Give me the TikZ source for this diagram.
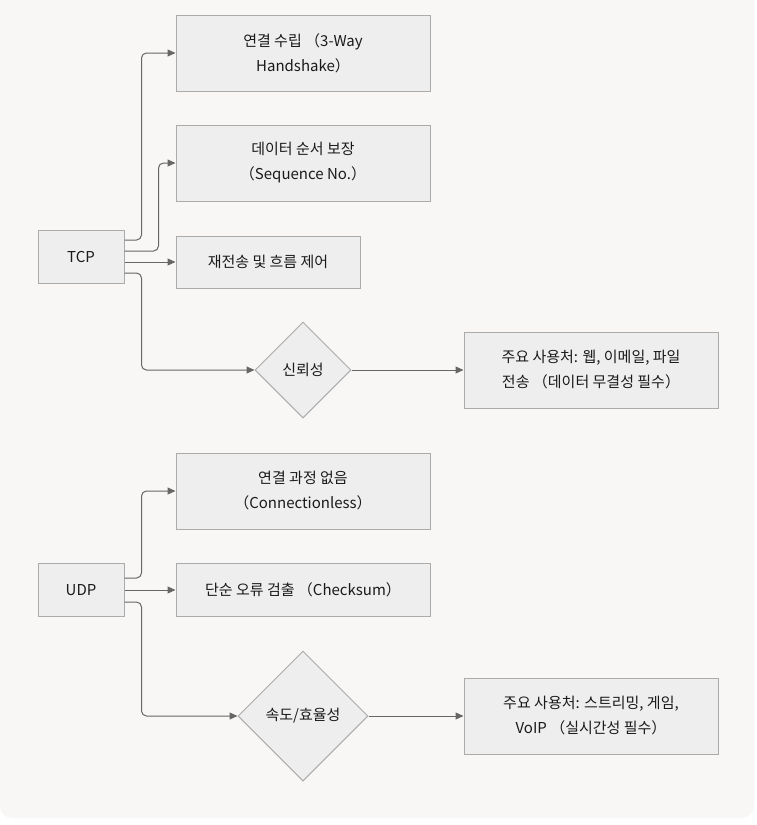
\documentclass[tikz,border=0pt]{standalone}
\usepackage{fontspec}
\setmainfont{Noto Sans CJK KR}
\usetikzlibrary{positioning,shapes.geometric,arrows.meta}

\definecolor{bgpanel}{HTML}{F8F7F5}
\definecolor{boxfill}{HTML}{EEEEEE}
\definecolor{boxline}{HTML}{ABABAB}
\definecolor{linkgray}{HTML}{666666}
\definecolor{textdark}{HTML}{1A1A1A}

\tikzset{
    proto/.style={draw=boxline, fill=boxfill, line width=1pt, inner sep=0pt,
        minimum width=86pt, minimum height=53pt, text=textdark,
        font=\fontsize{15}{25}\selectfont, align=center},
    feat/.style={proto, minimum width=254pt, minimum height=76pt},
    gate/.style={proto, diamond, aspect=1},
    link/.style={draw=linkgray, line width=1pt, rounded corners=5pt,
        -{Triangle[length=8pt,width=7pt]}},
}

\begin{document}
\begin{tikzpicture}[x=1pt,y=-1pt]
    \useasboundingbox (0,0) rectangle (756,825);
    \fill[white] (0,0) rectangle (756,825);
    \fill[bgpanel] (0,0) -- (754,0) [rounded corners=12pt] -- (754,818) -- (0,818) [sharp corners] -- cycle;

    % TCP
    \node[proto] (tcp) at (81,257) {TCP};
    \node[feat] (hand) at (303,53) {연결 수립 （3-Way\\Handshake）};
    \node[feat] (seq) at (303,163) {데이터 순서 보장\\（Sequence No.）};
    \node[proto, minimum width=184pt, minimum height=52pt] (retx) at (268,262) {재전송 및 흐름 제어};
    \node[gate, minimum width=96pt, minimum height=96pt] (rel) at (303,370) {신뢰성};
    \node[feat] (tcpuse) at (591,370) {주요 사용처: 웹, 이메일, 파일\\전송 （데이터 무결성 필수）};

    \draw[link] ([yshift=17pt]tcp.east) -- ++(17,0) |- (hand.west);
    \draw[link] ([yshift=6pt]tcp.east) -- ++(34,0) |- (seq.west);
    \draw[link] ([yshift=-5pt]tcp.east) -- ([yshift=-5pt]tcp.east -| retx.west);
    \draw[link] ([yshift=-16pt]tcp.east) -- ++(17,0) |- (rel.west);
    \draw[link] (rel) -- (tcpuse);

    % UDP
    \node[proto] (udp) at (81,590) {UDP};
    \node[feat] (noconn) at (303,491) {연결 과정 없음\\（Connectionless）};
    \node[proto, minimum width=254pt] (chk) at (303,590) {단순 오류 검출 （Checksum）};
    \node[gate, minimum width=130pt, minimum height=130pt] (speed) at (303,716) {속도/효율성};
    \node[feat] (udpuse) at (591,716) {주요 사용처: 스트리밍, 게임,\\VoIP （실시간성 필수）};

    \draw[link] ([yshift=12pt]udp.east) -- ++(17,0) |- (noconn.west);
    \draw[link] (udp) -- (chk);
    \draw[link] ([yshift=-12pt]udp.east) -- ++(17,0) |- (speed.west);
    \draw[link] (speed) -- (udpuse);

\end{tikzpicture}
\end{document}
